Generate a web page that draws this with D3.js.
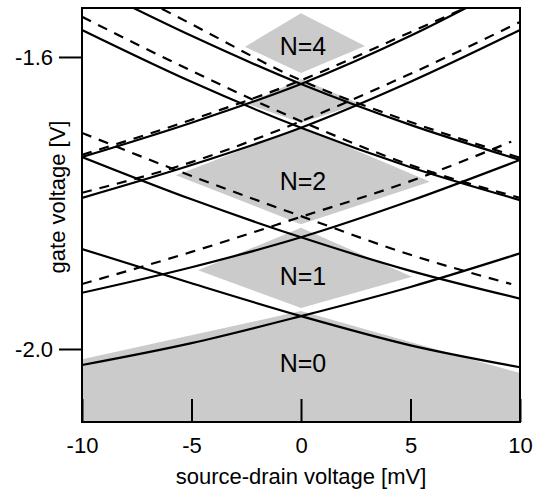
<!DOCTYPE html>
<html>
<head>
<meta charset="utf-8">
<script src="https://cdn.jsdelivr.net/npm/d3@7"></script>
<style>
  body { margin: 0; background: #fff; }
  text { font-family: "Liberation Sans", Arial, sans-serif; }
</style>
</head>
<body>
<div id="viz"></div>
<script>
// source-drain voltage [mV] / gate voltage [V]
const sdTicks = [-10, -5, 0, 5, 10];
const gateTicks = [-1.6, -2.0];

// solid lines, sampled at these source-drain voltages
const solidX = [-10, -5, 0, 5, 10];
const solidDown1 = [-1.498, -1.571, -1.637, -1.693, -1.741];
const solidDown2 = [-1.563, -1.634, -1.697, -1.751, -1.796];
const solidDown3 = [-1.737, -1.795, -1.847, -1.893, -1.931];
const solidDown4 = [-1.863, -1.910, -1.955, -1.995, -2.025];
const solidUp1 = [-1.737, -1.690, -1.637, -1.571, -1.494];
const solidUp2 = [-1.793, -1.748, -1.697, -1.634, -1.563];
const solidUp3 = [-1.923, -1.888, -1.847, -1.797, -1.741];
const solidUp4 = [-2.022, -1.992, -1.955, -1.915, -1.869];

// dashed lines
const dashX = [-10, -5, 0, 5, 10];
const dashXShort = [-10, -5, 0, 5, 9.6];
const dashDown1 = [-1.545, -1.619, -1.688, -1.748, -1.793];
const dashDown2 = [-1.477, -1.555, -1.632, -1.689, -1.738];
const dashUp1 = [-1.734, -1.686, -1.632, -1.566, -1.500];
const dashUp2 = [-1.786, -1.744, -1.688, -1.623, -1.552];
const dashDown3 = [-1.704, -1.763, -1.818, -1.871, -1.911];
const dashUp3 = [-1.911, -1.867, -1.819, -1.770, -1.716];

// grey diamonds (x, y corners)
const diamondLabels = ['N=4', '', 'N=2', 'N=1', 'N=0'];
const diamondX = [
  [-2.56, 0, 2.92, 0],
  [-2.47, 0, 2.69, 0],
  [-5.71, 0, 5.89, 0],
  [-4.70, 0, 5.07, 0],
  [-10, 0, 10, 10, -10]
];
const diamondY = [
  [-1.586, -1.540, -1.585, -1.622],
  [-1.664, -1.630, -1.664, -1.690],
  [-1.762, -1.696, -1.771, -1.829],
  [-1.892, -1.834, -1.901, -1.944],
  [-2.014, -1.948, -2.033, -2.1, -2.1]
];
// where the N labels sit (baseline)
const labelY = [-1.597, null, -1.782, -1.912, -2.031];

const width = 538;
const height = 489;
const margin = { top: 8, right: 18, bottom: 67, left: 82 };
const plotWidth = width - margin.left - margin.right;
const plotHeight = height - margin.top - margin.bottom;

const xScale = d3.scaleLinear()
                 .domain([-10, 10])
                 .range([0, plotWidth]);

const yScale = d3.scaleLinear()
                 .domain([-2.1, -1.5329])
                 .range([plotHeight, 0]);

const svg = d3.select('#viz')
              .append('svg')
              .attr('width', width)
              .attr('height', height);

svg.append('defs').append('clipPath')
   .attr('id', 'plot-clip')
   .append('rect')
   .attr('width', plotWidth)
   .attr('height', plotHeight);

const plot = svg.append('g')
                .attr('transform', `translate(${margin.left}, ${margin.top})`);

const inner = plot.append('g').attr('clip-path', 'url(#plot-clip)');

// grey regions
inner.selectAll('polygon')
     .data(diamondX)
     .enter().append('polygon')
       .attr('fill', '#cbcbcb')
       .attr('points', (xs, i) => xs.map((x, j) => [xScale(x), yScale(diamondY[i][j])].join(',')).join(' '));

const line = d3.line()
               .x((d) => xScale(d[0]))
               .y((d) => yScale(d[1]))
               .curve(d3.curveMonotoneX);

const zip = (xs, ys) => xs.map((x, i) => [x, ys[i]]);

const solidLines = [solidDown1, solidDown2, solidDown3, solidDown4,
                    solidUp1, solidUp2, solidUp3, solidUp4].map((ys) => zip(solidX, ys));
const dashedLines = [zip(dashX, dashDown1), zip(dashX, dashDown2),
                     zip(dashX, dashUp1), zip(dashX, dashUp2),
                     zip(dashXShort, dashDown3), zip(dashXShort, dashUp3)];

inner.selectAll('path.dashed')
     .data(dashedLines)
     .enter().append('path')
       .classed('dashed', true)
       .attr('fill', 'none')
       .attr('stroke', '#000')
       .attr('stroke-width', 2.2)
       .attr('stroke-dasharray', '10,8')
       .attr('d', line);

inner.selectAll('path.solid')
     .data(solidLines)
     .enter().append('path')
       .classed('solid', true)
       .attr('fill', 'none')
       .attr('stroke', '#000')
       .attr('stroke-width', 2.2)
       .attr('d', line);

// N labels
plot.selectAll('text.nlabel')
    .data(diamondLabels)
    .enter().append('text')
      .classed('nlabel', true)
      .attr('x', xScale(0) + 2)
      .attr('y', (d, i) => labelY[i] === null ? 0 : yScale(labelY[i]))
      .attr('text-anchor', 'middle')
      .style('font-size', '25px')
      .text((d) => d);

// axes
const xTicks = d3.axisBottom(xScale)
                 .tickValues(sdTicks)
                 .tickSizeInner(-23)
                 .tickSizeOuter(0)
                 .tickPadding(15)
                 .tickFormat((d) => String(d));

const yTicks = d3.axisLeft(yScale)
                 .tickValues(gateTicks)
                 .tickSizeInner(23)
                 .tickSizeOuter(0)
                 .tickPadding(6)
                 .tickFormat((d) => d.toFixed(1));

const xAxis = plot.append('g')
                  .attr('transform', `translate(0, ${plotHeight})`)
                  .call(xTicks);

const yAxis = plot.append('g')
                  .call(yTicks);

[xAxis, yAxis].forEach((ax) => {
  ax.select('.domain').remove();
  ax.selectAll('line').attr('stroke', '#000').attr('stroke-width', 2);
  ax.selectAll('text')
    .attr('fill', '#000')
    .style('font-size', '22px')
    .style('font-family', '"Liberation Sans", Arial, sans-serif');
});

// frame
plot.append('rect')
    .attr('width', plotWidth)
    .attr('height', plotHeight)
    .attr('fill', 'none')
    .attr('stroke', '#000')
    .attr('stroke-width', 2);

// axis titles
svg.append('text')
   .attr('x', margin.left + plotWidth / 2)
   .attr('y', 484)
   .attr('text-anchor', 'middle')
   .style('font-size', '22px')
   .text('source-drain voltage [mV]');

svg.append('text')
   .attr('transform', 'translate(65, 197) rotate(-90)')
   .attr('text-anchor', 'middle')
   .style('font-size', '22px')
   .text('gate voltage [V]');
</script>
</body>
</html>
